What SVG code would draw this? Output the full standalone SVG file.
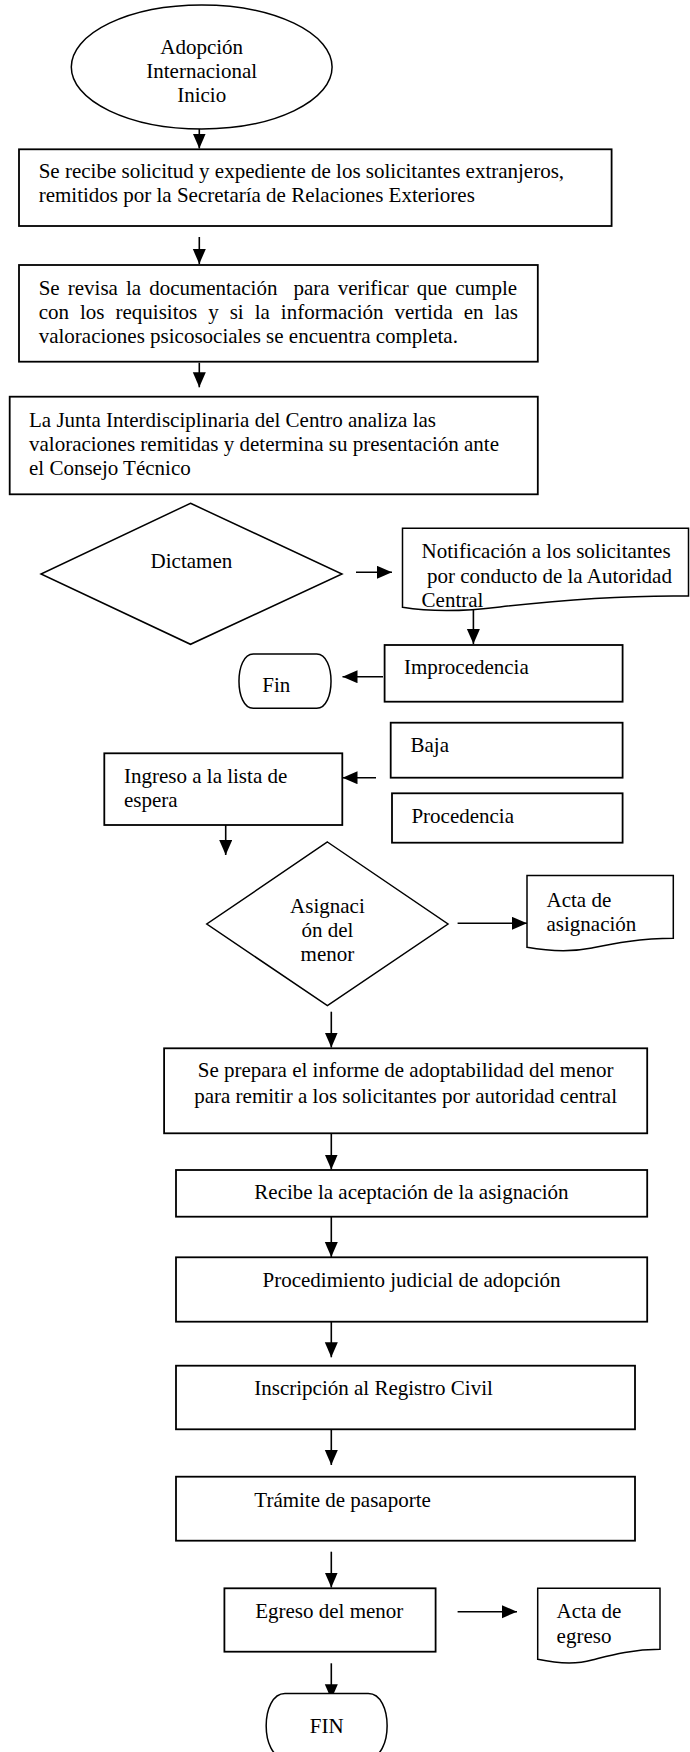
<svg xmlns="http://www.w3.org/2000/svg" width="690" height="1752" viewBox="0 0 690 1752">
<style>
  .shape { fill: #ffffff; stroke: #000000; stroke-width: 1.8; }
  .thin { fill: #ffffff; stroke: #000000; stroke-width: 1.5; }
  .lbl { font-family: "Liberation Serif", "Times New Roman", serif; font-size: 21px; fill: #000000; }
  .mid { text-anchor: middle; }
  .conn { stroke: #000000; stroke-width: 1.6; fill: none; marker-end: url(#arrow); }
</style>
<defs>
  <marker id="arrow" markerUnits="userSpaceOnUse" markerWidth="16" markerHeight="14" refX="15" refY="6.5" orient="auto">
    <path d="M0,0 L15,6.5 L0,13 Z" fill="#000000"/>
  </marker>
</defs>
<rect x="0" y="0" width="690" height="1752" fill="#ffffff"/>

<g id="connectors">
  <line class="conn" x1="199.3" y1="129" x2="199.3" y2="148.5"/>
  <line class="conn" x1="199.3" y1="237" x2="199.3" y2="264"/>
  <line class="conn" x1="199.3" y1="362.7" x2="199.3" y2="387.3"/>
  <line class="conn" x1="356" y1="572.3" x2="392" y2="572.3"/>
  <line class="conn" x1="473.4" y1="610" x2="473.4" y2="644"/>
  <line class="conn" x1="383" y1="676.7" x2="342.5" y2="676.7"/>
  <line class="conn" x1="376" y1="777.7" x2="342.5" y2="777.7"/>
  <line class="conn" x1="225.7" y1="825" x2="225.7" y2="855"/>
  <line class="conn" x1="457.6" y1="923.3" x2="527" y2="923.3"/>
  <line class="conn" x1="331.3" y1="1011.7" x2="331.3" y2="1047.5"/>
  <line class="conn" x1="331.3" y1="1133.3" x2="331.3" y2="1169.5"/>
  <line class="conn" x1="331.3" y1="1216.7" x2="331.3" y2="1257"/>
  <line class="conn" x1="331.3" y1="1321.7" x2="331.3" y2="1357.3"/>
  <line class="conn" x1="331.3" y1="1429.3" x2="331.3" y2="1465"/>
  <line class="conn" x1="331.3" y1="1551.7" x2="331.3" y2="1587.5"/>
  <line class="conn" x1="457.6" y1="1611.7" x2="517" y2="1611.7"/>
  <line class="conn" x1="331.3" y1="1663.3" x2="331.3" y2="1699.3"/>
</g>

<g id="inicio">
  <ellipse class="thin" cx="201.7" cy="67" rx="130.4" ry="62"/>
  <text class="lbl mid" x="201.7" y="53.5">Adopción</text>
  <text class="lbl mid" x="201.7" y="78">Internacional</text>
  <text class="lbl mid" x="201.7" y="102">Inicio</text>
</g>

<g id="recibe-solicitud">
  <rect class="shape" x="19" y="149.3" width="592.6" height="76.7"/>
  <text class="lbl" x="38.7" y="178.3">Se recibe solicitud y expediente de los solicitantes extranjeros,</text>
  <text class="lbl" x="38.7" y="201.7">remitidos por la Secretaría de Relaciones Exteriores</text>
</g>

<g id="revisa-documentacion">
  <rect class="shape" x="19" y="265" width="518.8" height="96.7"/>
  <text class="lbl" x="38.7" y="295" xml:space="preserve" style="word-spacing:2.8px">Se revisa la documentación  para verificar que cumple</text>
  <text class="lbl" x="38.7" y="319.3" style="word-spacing:5.75px">con los requisitos y si la información vertida en las</text>
  <text class="lbl" x="38.7" y="343.3">valoraciones psicosociales se encuentra completa.</text>
</g>

<g id="junta">
  <rect class="shape" x="9.7" y="396.7" width="528.1" height="97.6"/>
  <text class="lbl" x="29" y="426.7">La Junta Interdisciplinaria del Centro analiza las</text>
  <text class="lbl" x="29" y="450.7">valoraciones remitidas y determina su presentación ante</text>
  <text class="lbl" x="29" y="475">el Consejo Técnico</text>
</g>

<g id="dictamen">
  <polygon class="thin" points="190.5,503.3 342,574 190.5,644.3 41,574"/>
  <text class="lbl mid" x="191.4" y="568.3">Dictamen</text>
</g>

<g id="notificacion">
  <path class="thin" d="M402.5,528.3 H688.5 V596 C620,595 560,600 500,607 C460,612 425,611 402.5,607.3 Z"/>
  <text class="lbl" x="421.6" y="557.5">Notificación a los solicitantes</text>
  <text class="lbl" x="427" y="582.5">por conducto de la Autoridad</text>
  <text class="lbl" x="421.6" y="607">Central</text>
</g>

<g id="improcedencia">
  <rect class="shape" x="384.6" y="645" width="238" height="56.7"/>
  <text class="lbl" x="404" y="674">Improcedencia</text>
</g>

<g id="fin1">
  <path class="thin" d="M253.3,654 H316.7 C335.8,654 335.8,708.3 316.7,708.3 H253.3 C234.2,708.3 234.2,654 253.3,654 Z"/>
  <text class="lbl" x="262.3" y="691.7">Fin</text>
</g>

<g id="baja">
  <rect class="shape" x="390.7" y="722.7" width="231.9" height="55"/>
  <text class="lbl" x="410.5" y="751.7">Baja</text>
</g>

<g id="procedencia">
  <rect class="shape" x="392" y="793.3" width="230.6" height="49.4"/>
  <text class="lbl" x="411.4" y="823.3">Procedencia</text>
</g>

<g id="ingreso">
  <rect class="shape" x="104.3" y="753.3" width="238" height="71.7"/>
  <text class="lbl" x="124" y="783.3">Ingreso a la lista de</text>
  <text class="lbl" x="124" y="807.3">espera</text>
</g>

<g id="asignacion">
  <polygon class="thin" points="327.4,842 448,924 327.4,1005.7 206.8,924"/>
  <text class="lbl mid" x="327.4" y="912.7">Asignaci</text>
  <text class="lbl mid" x="327.4" y="936.7">ón del</text>
  <text class="lbl mid" x="327.4" y="960.7">menor</text>
</g>

<g id="acta-asignacion">
  <path class="thin" d="M527,875.5 H673.3 V938.3 C640,938.3 612,944 592,948 C572,952 548,951 527,947.3 Z"/>
  <text class="lbl" x="546.5" y="907">Acta de</text>
  <text class="lbl" x="546.5" y="931">asignación</text>
</g>

<g id="informe">
  <rect class="shape" x="164.1" y="1048.3" width="483.1" height="85"/>
  <text class="lbl mid" x="405.6" y="1077.3">Se prepara el informe de adoptabilidad del menor</text>
  <text class="lbl mid" x="405.6" y="1103.3">para remitir a los solicitantes por autoridad central</text>
</g>

<g id="aceptacion">
  <rect class="shape" x="176" y="1170" width="471.2" height="46.7"/>
  <text class="lbl mid" x="411.5" y="1199.3">Recibe la aceptación de la asignación</text>
</g>

<g id="procedimiento">
  <rect class="shape" x="176" y="1257.3" width="471.2" height="64.4"/>
  <text class="lbl mid" x="411.5" y="1286.7">Procedimiento judicial de adopción</text>
</g>

<g id="inscripcion">
  <rect class="shape" x="176" y="1365.7" width="459" height="63.6"/>
  <text class="lbl" x="254.3" y="1395">Inscripción al Registro Civil</text>
</g>

<g id="pasaporte">
  <rect class="shape" x="176" y="1476.7" width="459" height="64"/>
  <text class="lbl" x="254.3" y="1507.3">Trámite de pasaporte</text>
</g>

<g id="egreso">
  <rect class="shape" x="224.4" y="1588.3" width="211.2" height="63.4"/>
  <text class="lbl" x="255.2" y="1618.3">Egreso del menor</text>
</g>

<g id="acta-egreso">
  <path class="thin" d="M537.7,1588.3 H660 V1649.3 C630,1649.3 608,1656 592,1660 C575,1665 555,1663 537.7,1659.3 Z"/>
  <text class="lbl" x="556.6" y="1618.3">Acta de</text>
  <text class="lbl" x="556.6" y="1642.7">egreso</text>
</g>

<g id="fin2">
  <path class="thin" d="M285,1693.5 H368.3 C393.4,1693.5 393.4,1758 368.3,1758 H285 C259.9,1758 259.9,1693.5 285,1693.5 Z"/>
  <text class="lbl mid" x="326.7" y="1733.3">FIN</text>
</g>
</svg>
